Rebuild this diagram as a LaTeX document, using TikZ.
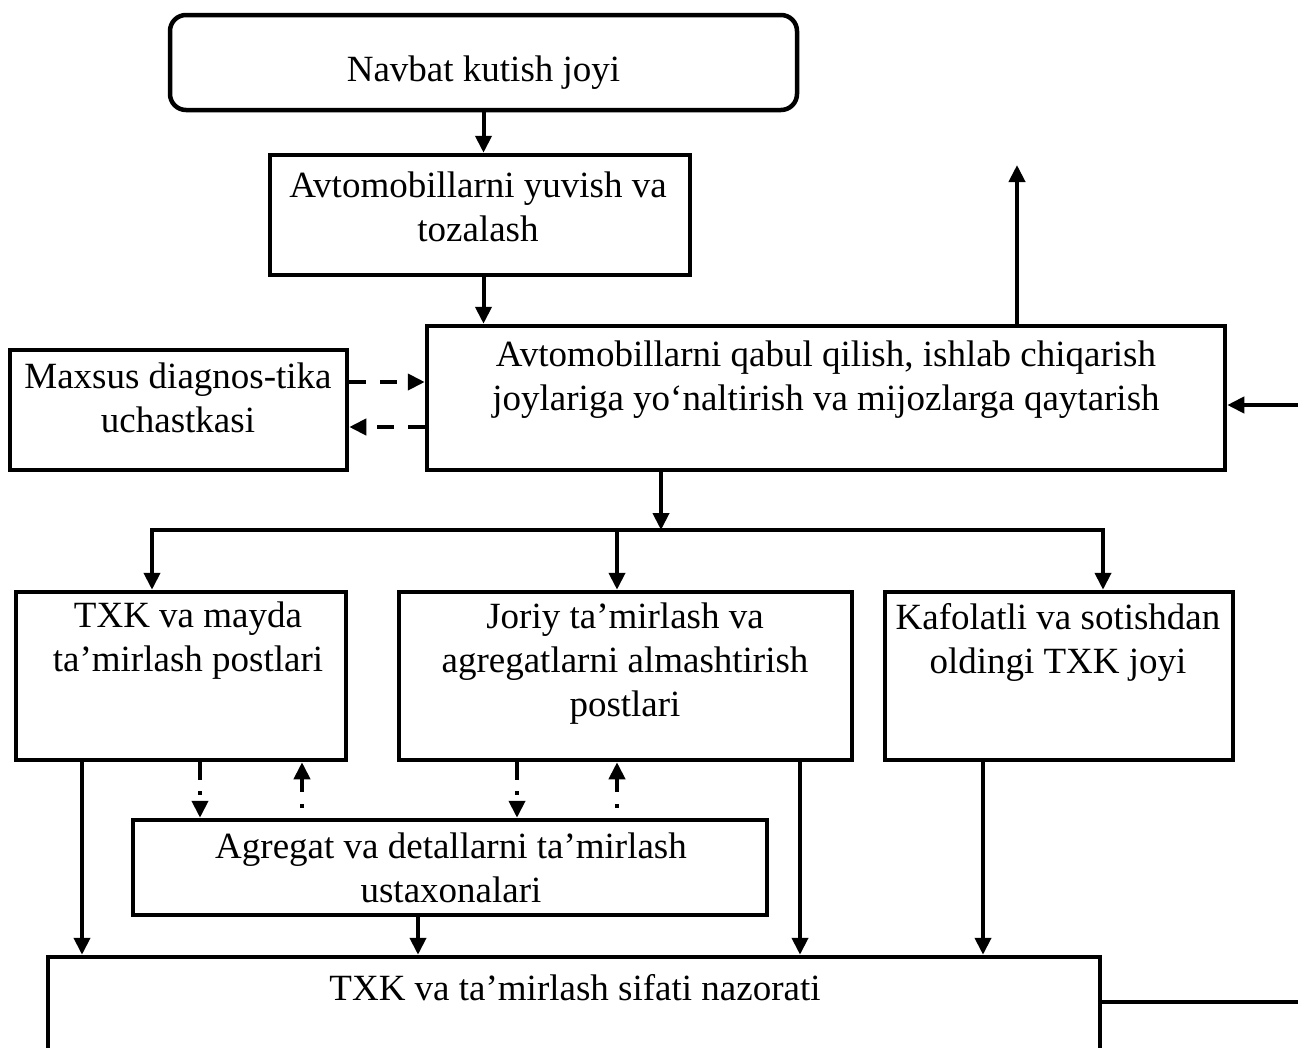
\documentclass[tikz,border=0pt]{standalone}
\usepackage{fontspec}
\setmainfont{Liberation Serif}
\usetikzlibrary{arrows.meta,calc}
\begin{document}
\begin{tikzpicture}[x=1pt,y=-1pt,
  box/.style={draw, line width=4.5pt, inner sep=0pt},
  txt/.style={anchor=north, inner sep=0pt, align=center, font=\fontsize{37}{44}\selectfont, execute at begin node=\strut},
  arr/.style={line width=4pt, -{Triangle[length=17pt,width=16pt]}},
  ln/.style={line width=4pt, line cap=rect},
  dasharr/.style={arr, dash pattern=on 17pt off 14pt},
  dotdown/.style={arr, dash pattern=on 18pt off 11pt on 4pt off 60pt},
  dotup/.style={arr, dash pattern=on 0pt off 10pt on 4pt off 12pt on 80pt}]
\useasboundingbox (0,0) rectangle (1298,1047);
\clip (0,0) rectangle (1298,1047);

% boxes
\node[box, rounded corners=16pt, minimum width=627pt, minimum height=95pt] (nav) at (483.5,62.5) {};
\node[box, minimum width=420pt, minimum height=120pt] (wash) at (480,215) {};
\node[box, minimum width=798pt, minimum height=144pt] (recv) at (826,398) {};
\node[box, minimum width=337pt, minimum height=120pt] (diag) at (178.5,410) {};
\node[box, minimum width=330pt, minimum height=168pt] (txk) at (181,676) {};
\node[box, minimum width=453pt, minimum height=168pt] (joriy) at (625.5,676) {};
\node[box, minimum width=348pt, minimum height=168pt] (kaf) at (1059,676) {};
\node[box, minimum width=634pt, minimum height=95pt] (agr) at (450,867.5) {};
\node[box, minimum width=1052pt, minimum height=123pt] (ctrl) at (574,1018.5) {};

% texts
\node[txt] (navT) at (483.5,50) {Navbat kutish joyi};
\node[txt] (washT) at (478,172) {Avtomobillarni yuvish va\\tozalash};
\node[txt] (recvT) at (826,341) {Avtomobillarni qabul qilish, ishlab chiqarish\\joylariga yo‘naltirish va mijozlarga qaytarish};
\node[txt] (diagT) at (178,363) {Maxsus diagnos-tika\\uchastkasi};
\node[txt] (txkT) at (188,602) {TXK va mayda\\ta’mirlash postlari};
\node[txt] (joriyT) at (625,603) {Joriy ta’mirlash va\\agregatlarni almashtirish\\postlari};
\node[txt] (kafT) at (1058,603) {Kafolatli va sotishdan\\oldingi TXK joyi};
\node[txt] (agrT) at (451,833) {Agregat va detallarni ta’mirlash\\ustaxonalari};
\node[txt] (ctrlT) at (575,969) {TXK va ta’mirlash sifati nazorati};

% helper coordinates
\coordinate (up) at (1017,165);
\coordinate (rin) at (1298,405);
\coordinate (rout) at (1298,1002);
\coordinate (dA) at (0,382);
\coordinate (dB) at (0,427);
\coordinate (sp) at (661,530);
\coordinate (b1) at (152,530);
\coordinate (b2) at (617,530);
\coordinate (b3) at (1103,530);
\coordinate (c82) at (82,0);
\coordinate (c200) at (200,0);
\coordinate (c302) at (302,0);
\coordinate (c418) at (418,0);
\coordinate (c517) at (517,0);
\coordinate (c617) at (617,0);
\coordinate (c800) at (800,0);
\coordinate (c983) at (983,0);

% connectors
\draw[arr] (nav.south) -- (nav.south |- wash.north);
\draw[arr] (nav.south |- wash.south) -- (nav.south |- recv.north);
\draw[arr] (up |- recv.north) -- (up);
\draw[arr] (rin) -- (rin -| recv.east);
\draw[dasharr] (diag.east |- dA) -- (recv.west |- dA);
\draw[dasharr] (recv.west |- dB) -- (diag.east |- dB);

\draw[arr] (sp |- recv.south) -- (sp);
\draw[ln] (b1) -- (b3);
\draw[arr] (b1) -- (b1 |- txk.north);
\draw[arr] (b2) -- (b2 |- joriy.north);
\draw[arr] (b3) -- (b3 |- kaf.north);

\draw[dotdown] (txk.south -| c200) -- (agr.north -| c200);
\draw[dotup] (agr.north -| c302) -- (txk.south -| c302);
\draw[dotdown] (joriy.south -| c517) -- (agr.north -| c517);
\draw[dotup] (agr.north -| c617) -- (joriy.south -| c617);

\draw[arr] (txk.south -| c82) -- (ctrl.north -| c82);
\draw[arr] (agr.south -| c418) -- (ctrl.north -| c418);
\draw[arr] (joriy.south -| c800) -- (ctrl.north -| c800);
\draw[arr] (kaf.south -| c983) -- (ctrl.north -| c983);
\draw[ln] (rout -| ctrl.east) -- (rout);
\end{tikzpicture}
\end{document}
